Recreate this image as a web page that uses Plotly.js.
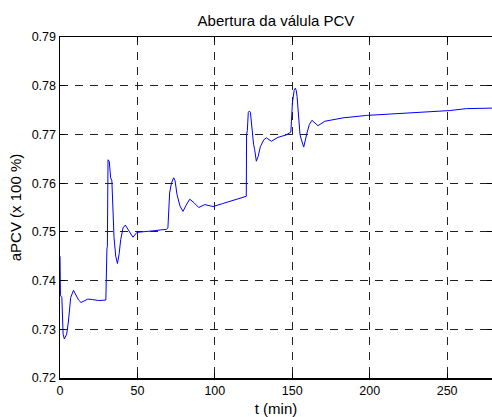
<!DOCTYPE html>
<html>
<head>
<meta charset="utf-8">
<script src="https://cdn.plot.ly/plotly-3.0.1.min.js"></script>
<style>
  html, body { margin: 0; padding: 0; background: #fff; overflow: hidden; }
  #chart { width: 492px; height: 417px; }
</style>
</head>
<body>
<div id="chart"></div>
<script>
// Valve opening response of the PCV over time
const timeMin = [
  0, 0.3, 1.2, 2.0, 2.8, 3.5, 4.3, 5.4, 6.2, 6.9, 8.7, 10.0, 12.0, 13.6, 15.5, 17.9, 21.0, 25.0, 29.6,
  30.0, 30.3, 30.6, 31.0, 31.8, 32.7, 33.5, 34.2, 34.9, 36.0, 37.1, 38.2, 39.2, 40.7, 42.2, 44.5, 47.1, 49.7,
  55.0, 60.0, 65.0, 68.7, 69.7, 70.3, 70.8, 72.0, 73.4, 74.3, 75.6, 77.5, 79.4, 81.5, 83.8, 86.5, 89.6, 93.5, 98.8,
  105.0, 112.0, 119.7, 120.3, 120.5, 121.0, 121.6, 122.3, 123.0, 123.5, 124.0, 125.0, 125.7, 126.8, 128.0, 129.4,
  131.6, 133.3, 136.5, 140.8, 146.2, 149.1, 150.1, 151.2, 152.0, 152.6, 153.1, 153.7, 154.2, 155.0, 155.9, 157.4,
  159.5, 161.0, 162.7, 166.6, 171.0, 182.8, 197.9, 219.4, 235.0, 251.7, 262.5, 279.0
];
const aPCV = [
  0.7450, 0.7370, 0.7365, 0.7290, 0.7280, 0.7285, 0.7290, 0.7315, 0.7350, 0.7365, 0.7380, 0.7373, 0.7360, 0.7355, 0.7358, 0.7362, 0.7361, 0.7359, 0.7360,
  0.7463, 0.7465, 0.7470, 0.7648, 0.7645, 0.7611, 0.7605, 0.7545, 0.7488, 0.7450, 0.7435, 0.7455, 0.7484, 0.7508, 0.7514, 0.7502, 0.7489, 0.7499,
  0.7500, 0.7502, 0.7504, 0.7505, 0.7508, 0.7545, 0.7580, 0.7600, 0.7611, 0.7605, 0.7576, 0.7553, 0.7542, 0.7555, 0.7567, 0.7560, 0.7550, 0.7556, 0.7552,
  0.7558, 0.7565, 0.7573, 0.7573, 0.7700, 0.7708, 0.7745, 0.7748, 0.7745, 0.7730, 0.7703, 0.7680, 0.7669, 0.7645, 0.7655, 0.7675,
  0.7689, 0.7693, 0.7686, 0.7694, 0.7699, 0.7705, 0.7765, 0.7790, 0.7795, 0.7790, 0.7778, 0.7750, 0.7730, 0.7700, 0.7689, 0.7674,
  0.7703, 0.7720, 0.7729, 0.7718, 0.7727, 0.7734, 0.7739, 0.7743, 0.7746, 0.7749, 0.7753, 0.7754
];
const xTicks = [0, 50, 100, 150, 200, 250];
const yTicks = [0.72, 0.73, 0.74, 0.75, 0.76, 0.77, 0.78, 0.79];

const axisCommon = {
  showline: true,
  linecolor: '#000',
  linewidth: 1.5,
  mirror: 'ticks',
  ticks: 'inside',
  ticklen: 5,
  tickcolor: '#000',
  tickwidth: 1,
  showgrid: true,
  gridcolor: '#222',
  gridwidth: 1,
  griddash: '8px,7px',
  zeroline: false,
  automargin: false,
  tickfont: { family: 'Liberation Sans, Arial, sans-serif', size: 12.5, color: '#000' },
  title: { font: { family: 'Liberation Sans, Arial, sans-serif', size: 15, color: '#000' } }
};

const trace = {
  x: timeMin,
  y: aPCV,
  type: 'scatter',
  mode: 'lines',
  line: { color: '#0000ff', width: 1 },
  hoverinfo: 'skip'
};

const layout = {
  width: 492,
  height: 417,
  margin: { l: 60, r: 0, t: 37, b: 39 },
  paper_bgcolor: '#fff',
  plot_bgcolor: '#fff',
  showlegend: false,
  title: {
    text: 'Abertura da válula PCV',
    font: { family: 'Liberation Sans, Arial, sans-serif', size: 15, color: '#000' },
    xref: 'paper', x: 0.5, xanchor: 'center',
    yref: 'container', y: 1 - 21 / 417, yanchor: 'middle'
  },
  xaxis: Object.assign({}, axisCommon, {
    range: [0, 279],
    tickvals: xTicks,
    ticktext: xTicks.map(String),
    title: Object.assign({}, axisCommon.title, { text: 't (min)', standoff: 7 })
  }),
  yaxis: Object.assign({}, axisCommon, {
    range: [0.72, 0.79],
    tickvals: yTicks,
    ticktext: yTicks.map(v => v.toFixed(2)),
    title: Object.assign({}, axisCommon.title, { text: 'aPCV (x 100 %)', standoff: 6 })
  })
};

Plotly.newPlot('chart', [trace], layout, { displayModeBar: false, staticPlot: true });
</script>
</body>
</html>
